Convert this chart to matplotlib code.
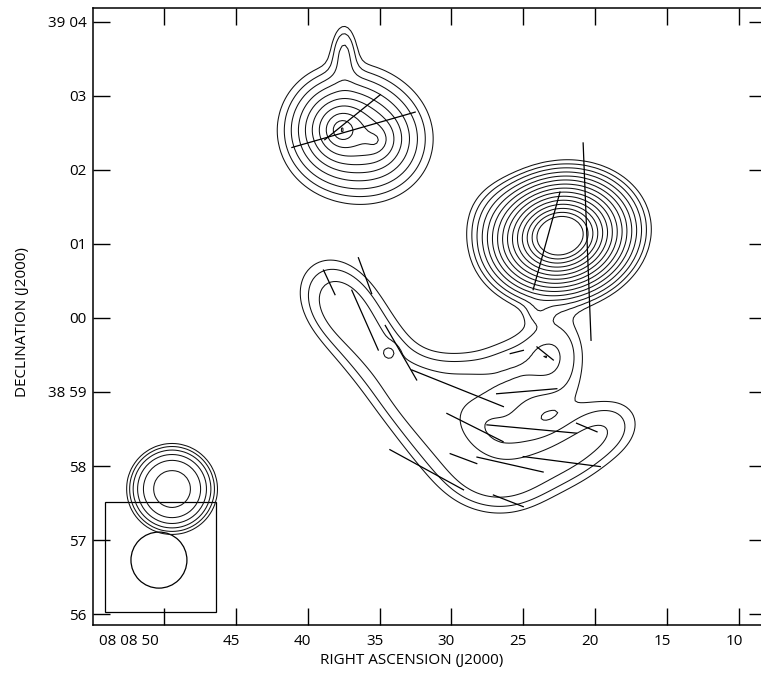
import numpy as np
import matplotlib
matplotlib.use('Agg')
import matplotlib.pyplot as plt
import matplotlib.transforms as mtransforms
from matplotlib.patches import Rectangle, Ellipse

plt.rcParams['font.family'] = ['Open Sans', 'DejaVu Sans']

# emission components: RA in s past 08h08m, Dec in arcmin past 38d00m
# sizes in arcsec, pa in deg E of N, index = profile exponent
comp_ra = [37.61, 35.32, 37.47, 22.44, 26.62, 49.44,
           38.25, 37.06, 35.25, 33.37, 31.49, 29.54, 27.31, 24.53, 21.75, 19.24,
           28.71, 25.92, 22.93, 22.79, 25.92, 31.14, 34.27, 23.49, 23.97]
comp_dec = [62.54, 62.40, 63.59, 61.11, 61.39, 57.69,
            60.33, 60.00, 59.54, 59.05, 58.57, 58.11, 57.78, 57.89, 58.15, 58.51,
            59.09, 59.30, 59.63, 59.16, 58.62, 59.16, 59.54, 59.47, 60.08]
comp_peak = [40, 15, 2.0, 2000, 0.9, 8.8,
             1.75, 1.75, 1.75, 1.75, 1.75, 1.8, 1.8, 1.8, 1.8, 1.8,
             1.7, 1.6, 1.7, 1.2, 1.0, 1.0, 1.2, 1.0, 0.8]
comp_major = [13.8, 16.2, 22.7, 9.8, 24.3, 28.4,
              32.4, 32.4, 32.4, 32.4, 32.4, 32.4, 30.8, 30.8, 30.8, 30.8,
              25.9, 25.9, 25.9, 25.9, 25.9, 25.9, 6.5, 5.7, 9.7]
comp_minor = [13.8, 16.2, 9.7, 8.0, 24.3, 28.4,
              27.5, 27.5, 27.5, 27.5, 27.5, 27.5, 24.3, 24.3, 24.3, 24.3,
              25.9, 25.9, 25.9, 25.9, 25.9, 25.9, 6.5, 5.7, 9.7]
comp_pa = [0, 0, 0, -78, 0, 0,
           38, 38, 38, 38, 40, 45, 80, -62, -62, -62,
           0, 0, 0, 0, 0, 0, 0, 0, 20]
comp_index = [1, 1, 2, 1, 2, 3] + [2] * 19

contour_levels = [1, 1.5, 2.25, 3.4, 5.1, 7.6, 11.4, 17.1, 25.6, 38.4,
                  57.7, 86.5, 130, 195, 292]

# polarization vectors: centre, position angle (deg), length (arcsec)
vec_ra = [36.81, 36.88, 20.56, 23.38, 36.01, 38.50, 36.01, 33.51, 29.57, 28.36,
          24.76, 24.41, 29.16, 25.92, 22.32, 20.58, 26.04, 25.45, 23.48, 31.72]
vec_dec = [62.54, 62.71, 61.03, 61.04, 60.57, 60.48, 59.97, 59.53, 59.05, 58.52,
           59.01, 58.50, 58.10, 58.02, 58.06, 58.52, 57.53, 59.54, 59.52, 57.95]
vec_pa = [-74, -51, 2.3, -15.4, 20.4, 25.1, 23.9, 30.0, 68.2, 63.4,
          -85.2, 84.7, 69.5, 77.3, 82.6, 67.2, 68.7, -76, 51.3, 61.4]
vec_len = [104, 58, 160, 82, 31, 22, 53, 51, 80, 51,
           49, 73, 23, 55, 63, 18, 26, 11, 17, 68]

x_ticks = [50, 45, 40, 35, 30, 25, 20, 15, 10]
x_labels = ['08 08 50', '45', '40', '35', '30', '25', '20', '15', '10']
y_ticks = [56, 57, 58, 59, 60, 61, 62, 63, 64]
y_labels = ['56', '57', '58', '38 59', '00', '01', '02', '03', '39 04']

beam_ra, beam_dec, beam_size = 50.35, 56.73, 45.4
box_ra = (54.11, 46.38)
box_dec = (56.03, 57.51)

sec_to_arcsec = 15 * np.cos(np.radians(39.0))

ra_grid = np.arange(8, 56.01, 0.2)
dec_grid = np.arange(55.8, 64.31, 0.04)
RA, DEC = np.meshgrid(ra_grid, dec_grid)
field = np.zeros_like(RA)
for ra, dec, peak, maj, mnr, pa, p in zip(comp_ra, comp_dec, comp_peak, comp_major,
                                           comp_minor, comp_pa, comp_index):
    X = (RA - ra) * sec_to_arcsec
    Y = (DEC - dec) * 60
    t = np.radians(pa)
    u = X * np.sin(t) + Y * np.cos(t)
    v = X * np.cos(t) - Y * np.sin(t)
    rho = np.sqrt((u / maj) ** 2 + (v / mnr) ** 2)
    field += peak * np.exp(-rho ** p)

fig = plt.figure(figsize=(7.61, 6.77), dpi=100)
ax = fig.add_axes([0.1218, 0.0775, 0.8848, 0.9102])

ax.contour(RA, DEC, field, levels=contour_levels, colors='#111111', linewidths=0.75)

for ra, dec, pa, length in zip(vec_ra, vec_dec, vec_pa, vec_len):
    d_ra = length / 2 * np.sin(np.radians(pa)) / sec_to_arcsec
    d_dec = length / 2 * np.cos(np.radians(pa)) / 60
    ax.plot([ra - d_ra, ra + d_ra], [dec - d_dec, dec + d_dec], color='k', lw=0.9)

ax.add_patch(Rectangle((box_ra[0], box_dec[0]), box_ra[1] - box_ra[0], box_dec[1] - box_dec[0],
                       fill=False, ec='k', lw=0.9))
ax.add_patch(Ellipse((beam_ra, beam_dec), beam_size / sec_to_arcsec, beam_size / 60,
                     fill=False, ec='k', lw=0.9))

ax.set_xlim(54.96, 8.11)
ax.set_ylim(55.86, 64.18)
ax.set_xticks(x_ticks)
ax.set_xticklabels(x_labels)
ax.set_yticks(y_ticks)
ax.set_yticklabels(y_labels)
ax.tick_params(direction='in', length=12, width=1, top=True, right=True, labelsize=11)
ax.tick_params(axis='x', pad=7)
ax.tick_params(axis='y', pad=4.5)

shift = mtransforms.ScaledTranslation(-5 / 100, 0, fig.dpi_scale_trans)
for lab in ax.get_xticklabels():
    lab.set_transform(lab.get_transform() + shift)
ax.get_xticklabels()[0].set_horizontalalignment('right')

ax.set_xlabel('RIGHT ASCENSION (J2000)', fontsize=11)
ax.set_ylabel('DECLINATION (J2000)', fontsize=11)
ax.xaxis.set_label_coords(0.473, -0.0463)
ax.yaxis.set_label_coords(-0.093, 0.491)
for s in ax.spines.values():
    s.set_linewidth(1.1)

fig.savefig('out.png', dpi=100)
